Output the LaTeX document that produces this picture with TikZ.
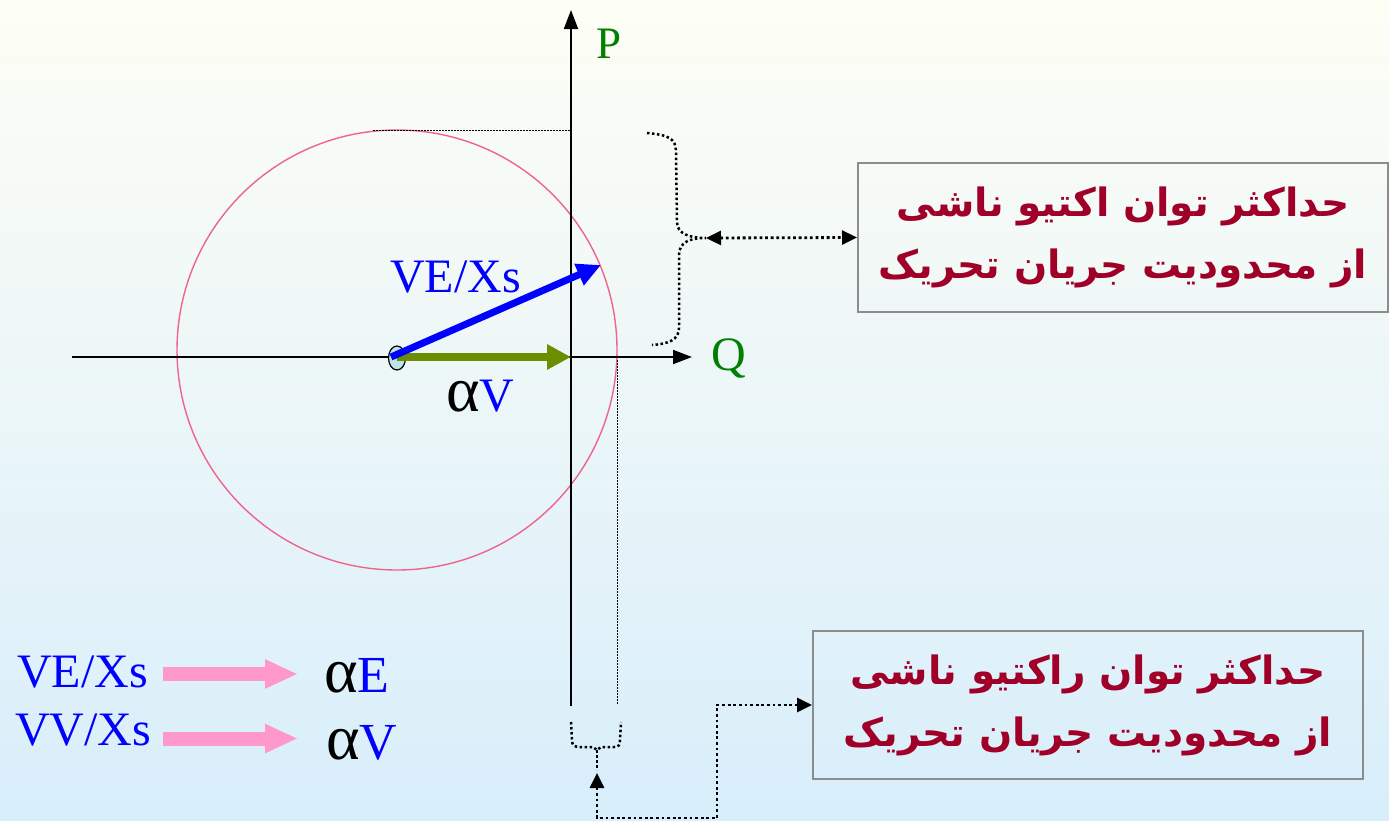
\documentclass[tikz,border=0pt]{standalone}
\usepackage{fontspec}
\setmainfont{Liberation Serif}
\newfontfamily\fa[Script=Arabic]{DejaVu Sans}
\TeXXeTstate=1
\usetikzlibrary{arrows.meta}
\definecolor{bgtop}{HTML}{FEFEF5}
\definecolor{bgmid}{HTML}{F1F9FA}
\definecolor{bgbot}{HTML}{D8EEFB}
\definecolor{pgreen}{HTML}{008000}
\definecolor{vgreen}{HTML}{6B8E00}
\definecolor{vblue}{HTML}{0000FF}
\definecolor{fared}{HTML}{A00028}
\definecolor{pinkarr}{HTML}{FF99CC}
\definecolor{circpink}{HTML}{F0648C}
\definecolor{boxgray}{HTML}{8C8C8C}
\definecolor{ellfill}{HTML}{BDE3E8}
\newcommand{\bigalpha}{{\fontsize{64}{64}\selectfont α}}
\tikzset{
  lbl/.style={anchor=base west, inner sep=0pt, font=\fontsize{48}{56}\selectfont},
  axis/.style={black, line width=1.8pt, -{Triangle[length=19pt,width=14pt]}},
  thindot/.style={black, line width=1pt, dash pattern=on 1.5pt off 1.5pt},
  bracedot/.style={black, line width=2.5pt, dash pattern=on 2.5pt off 2.5pt},
  conn/.style={black, line width=2.8pt, dash pattern=on 2.8pt off 2.8pt},
  ftip/.tip={Triangle[length=15pt,width=14pt]},
  farbox/.style={draw=boxgray, line width=2pt, align=center, text=fared, inner sep=0pt,
     font=\fa\bfseries\fontsize{39}{62}\selectfont},
  legarrow/.style={pinkarr, line width=14pt, -{Triangle[length=33pt,width=27pt]}}
}
\begin{document}
\begin{tikzpicture}[x=1pt,y=-1pt]
\useasboundingbox (0,0) rectangle (1389,820);
\shade[top color=bgtop, middle color=bgmid, bottom color=bgbot] (0,0) rectangle (1389,820);

% geometry points
\coordinate (o) at (397,357);
\coordinate (xl) at (72,357);
\coordinate (xr) at (692,357);
\coordinate (yb) at (571,706);
\coordinate (yt) at (571,10);
\coordinate (yq) at (571,357);
\coordinate (vetip) at (601,265);
\coordinate (ptop) at (571,130);
\coordinate (ptopl) at (373,130);
\coordinate (qr) at (617,360);
\coordinate (qrb) at (617,704);

% circle
\draw[circpink, line width=1.4pt] (397,350) circle[radius=220pt];

% axes
\draw[axis] (xl) -- (xr);
\draw[axis] (yb) -- (yt);
\node[lbl, text=pgreen, font=\fontsize{45}{50}\selectfont] (P) at (596,58) {P};
\node[lbl, text=pgreen] (Q) at (711,370) {Q};

% dotted guide lines
\draw[thindot] (ptopl) -- (ptop);
\draw[thindot] (qr) -- (qrb);

% origin ellipse and vectors
\draw[black, line width=1.2pt, fill=ellfill] (397,358) ellipse[x radius=8.5pt, y radius=12pt];
\draw[vgreen, line width=8pt, -{Triangle[length=24pt,width=24pt]}] (o) -- (yq);
\draw[vblue, line width=7pt, -{Triangle[length=24pt,width=22pt]}] (391,357) -- (vetip);
\node[lbl, text=vblue] (ve) at (390,292) {VE/Xs};
\node[lbl] (av) at (446,411) {\bigalpha\textcolor{vblue}{V}};

% right brace
\coordinate (bt) at (706,238);
\draw[bracedot] (647,133) .. controls (668,135) and (676,138) .. (676,152)
  -- (677,222) .. controls (677,234) and (690,238) .. (bt)
  .. controls (690,238) and (679,242) .. (679,255)
  -- (679,328) .. controls (679,340) and (668,344) .. (652,345);

% box 1
\node[farbox, minimum width=530pt, minimum height=149pt] (box1) at (1123,237.5)
  {\beginR حداکثر توان اکتیو ناشی\endR\\ \beginR از محدودیت جریان تحریک\endR};
\draw[conn, ftip-ftip] (bt) -- (box1.west);

% bottom brace
\coordinate (bb) at (597,750);
\coordinate (bbt) at (597,773);
\draw[bracedot] (571,722) -- (572,740) .. controls (572,745) and (574,747) .. (580,747)
  -- (593,747) -- (bb) -- (601,747) -- (614,747)
  .. controls (619,747) and (620,745) .. (620,740) -- (621,722);
\draw[bracedot] (bb) -- (597,770);

% box 2
\node[farbox, minimum width=550pt, minimum height=148pt] (box2) at (1088,705)
  {\beginR حداکثر توان راکتیو ناشی\endR\\ \beginR از محدودیت جریان تحریک\endR};
\coordinate (turn) at (717,818);
\draw[conn, ftip-ftip] (bbt) |- (turn) |- (box2.west);

% legend
\node[lbl, text=vblue] (l1) at (17,687) {VE/Xs};
\node[lbl, text=vblue] (l2) at (15,745) {VV/Xs};
\node[lbl, font=\fontsize{52}{56}\selectfont] (r1) at (324,692) {\bigalpha\textcolor{vblue}{E}};
\node[lbl, font=\fontsize{52}{56}\selectfont] (r2) at (326,759) {\bigalpha\textcolor{vblue}{V}};
\coordinate (a1s) at (163,674);
\coordinate (a1e) at (298,674);
\coordinate (a2s) at (163,738.5);
\coordinate (a2e) at (298,738.5);
\draw[legarrow] (a1s) -- (a1e);
\draw[legarrow] (a2s) -- (a2e);
\end{tikzpicture}
\end{document}
